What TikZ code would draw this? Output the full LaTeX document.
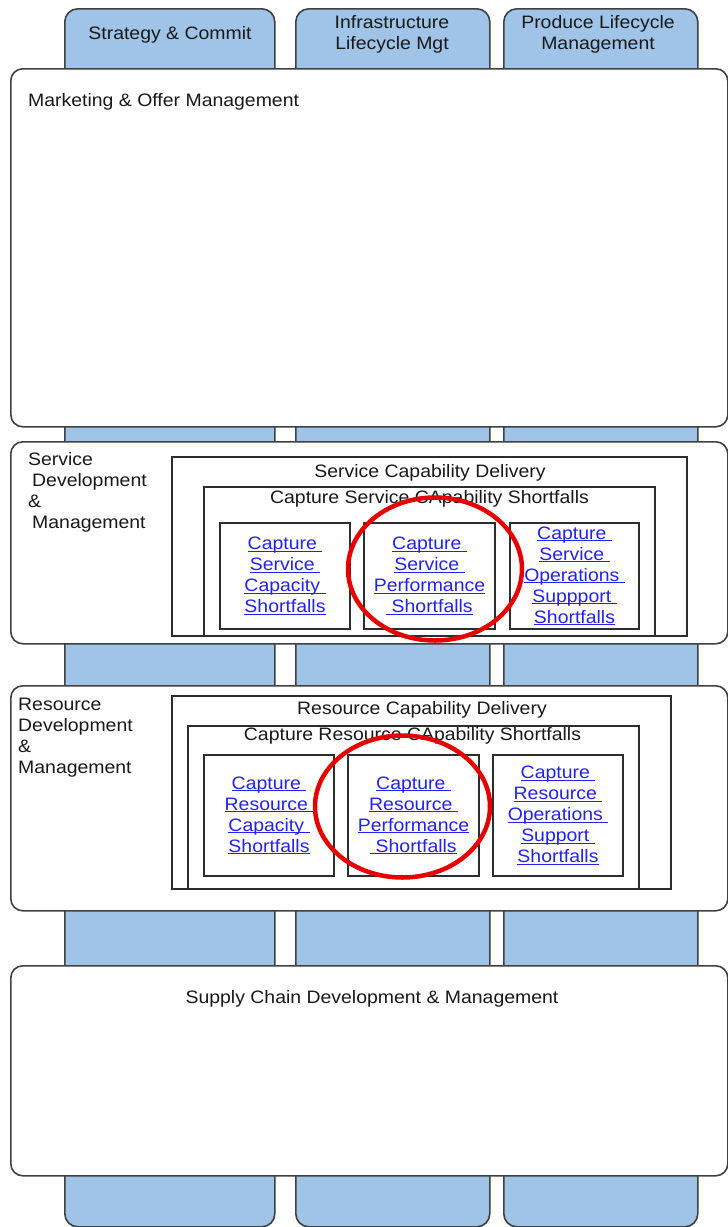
\documentclass[tikz,border=0pt]{standalone}
\usepackage{fontspec}
\setmainfont{Liberation Sans}[FakeStretch=1.08]
\usetikzlibrary{shapes.geometric}
\definecolor{colfill}{RGB}{159,196,231}
\definecolor{edge}{RGB}{64,64,64}
\definecolor{frameedge}{RGB}{45,45,45}
\definecolor{linkblue}{RGB}{35,35,235}
% link-style underline sitting just below the baseline
\newcommand{\ulink}[1]{{\setbox0\hbox{#1}\rlap{\rule[-2.4pt]{\wd0}{1.1pt}}\box0}}
\tikzset{
  column/.style={draw=edge, line width=1.6pt, fill=colfill, rounded corners=13pt,
    anchor=north west, inner sep=0pt},
  band/.style={draw=edge, line width=1.6pt, fill=white, rounded corners=12pt,
    anchor=north west, inner sep=0pt},
  frame/.style={draw=frameedge, line width=2pt, fill=white,
    anchor=north west, inner sep=0pt},
  txt/.style={font=\fontsize{18}{21}\selectfont, inner sep=0pt, text=black!90},
  link/.style={font=\fontsize{18}{21}\selectfont, inner sep=0pt, text=linkblue, align=center},
  ring/.style={draw=red!90!black, line width=4.5pt, ellipse, inner sep=0pt}
}
\begin{document}
\begin{tikzpicture}[x=1pt,y=-1pt]
\useasboundingbox (0,0) rectangle (728,1227);

% vertical process columns (behind everything)
\node[column, minimum width=210pt, minimum height=1218pt] (colA) at (64,8) {};
\node[column, minimum width=194pt, minimum height=1218pt] (colB) at (295,8) {};
\node[column, minimum width=194pt, minimum height=1218pt] (colC) at (503,8) {};
\node[txt, anchor=base] (colAlbl) at (170,39.5) {Strategy \& Commit};
\node[txt, anchor=north, align=center] (colBlbl) at (392,15) {Infrastructure\\Lifecycle Mgt};
\node[txt, anchor=north, align=center] (colClbl) at (598,15) {Produce Lifecycle\\Management};

% horizontal bands
\node[band, minimum width=717pt, minimum height=358pt] (mkt) at (10,68) {};
\node[band, minimum width=717pt, minimum height=202pt] (svc) at (10,441) {};
\node[band, minimum width=717pt, minimum height=225pt] (res) at (10,685) {};
\node[band, minimum width=717pt, minimum height=210pt] (sup) at (10,965) {};

\node[txt, anchor=base west] (mktlbl) at (28,106.5) {Marketing \& Offer Management};
\node[txt, anchor=north west, align=left] (svclbl) at (28,452)
  {Service\\\hspace*{4pt}Development\\\&\\\hspace*{4pt}Management};
\node[txt, anchor=north west, align=left] (reslbl) at (18,698)
  {Resource\\Development\\\&\\Management};
\node[txt, anchor=base] (suplbl) at (372,1003.5) {Supply Chain Development \& Management};

% service capability delivery
\node[frame, minimum width=515pt, minimum height=179pt] (scd) at (171,456) {};
\node[frame, minimum width=451pt, minimum height=149pt] (cscs) at (203,486) {};
\node[txt, anchor=base] (scdlbl) at (430,477.5) {Service Capability Delivery};
\node[txt, anchor=base] (cscslbl) at (429.5,503.5) {Capture Service CApability Shortfalls};
\node[frame, minimum width=130pt, minimum height=106pt] (s1) at (219,522) {};
\node[frame, minimum width=131pt, minimum height=106pt] (s2) at (363,522) {};
\node[frame, minimum width=129pt, minimum height=106pt] (s3) at (509,522) {};
\node[link] (s1t) at (s1.center) {\ulink{Capture\ }\\\ulink{Service\ }\\\ulink{Capacity\ }\\\ulink{Shortfalls}};
\node[link] (s2t) at (s2.center) {\ulink{Capture\ }\\\ulink{Service\ }\\\ulink{Performance}\\\ulink{\ Shortfalls}};
\node[link] (s3t) at (s3.center) {\ulink{Capture\ }\\\ulink{Service\ }\\\ulink{Operations\ }\\\ulink{Suppport\ }\\\ulink{Shortfalls}};

% resource capability delivery
\node[frame, minimum width=499pt, minimum height=193pt] (rcd) at (171,695) {};
\node[frame, minimum width=451pt, minimum height=163pt] (crcs) at (187,725) {};
\node[txt, anchor=base] (rcdlbl) at (422,714.5) {Resource Capability Delivery};
\node[txt, anchor=base] (crcslbl) at (412.5,740.5) {Capture Resource CApability Shortfalls};
\node[frame, minimum width=130pt, minimum height=121pt] (r1) at (203,754) {};
\node[frame, minimum width=131pt, minimum height=121pt] (r2) at (347,754) {};
\node[frame, minimum width=130pt, minimum height=121pt] (r3) at (492,754) {};
\node[link] (r1t) at (r1.center) {\ulink{Capture\ }\\\ulink{Resource\ }\\\ulink{Capacity\ }\\\ulink{Shortfalls}};
\node[link] (r2t) at (r2.center) {\ulink{Capture\ }\\\ulink{Resource\ }\\\ulink{Performance}\\\ulink{\ Shortfalls}};
\node[link] (r3t) at (r3.center) {\ulink{Capture\ }\\\ulink{Resource\ }\\\ulink{Operations\ }\\\ulink{Support\ }\\\ulink{Shortfalls}};

% highlight rings
\node[ring, minimum width=174pt, minimum height=143pt] (svcring) at (435,569) {};
\node[ring, minimum width=175pt, minimum height=142pt] (resring) at (402.5,806.5) {};
\end{tikzpicture}
\end{document}
